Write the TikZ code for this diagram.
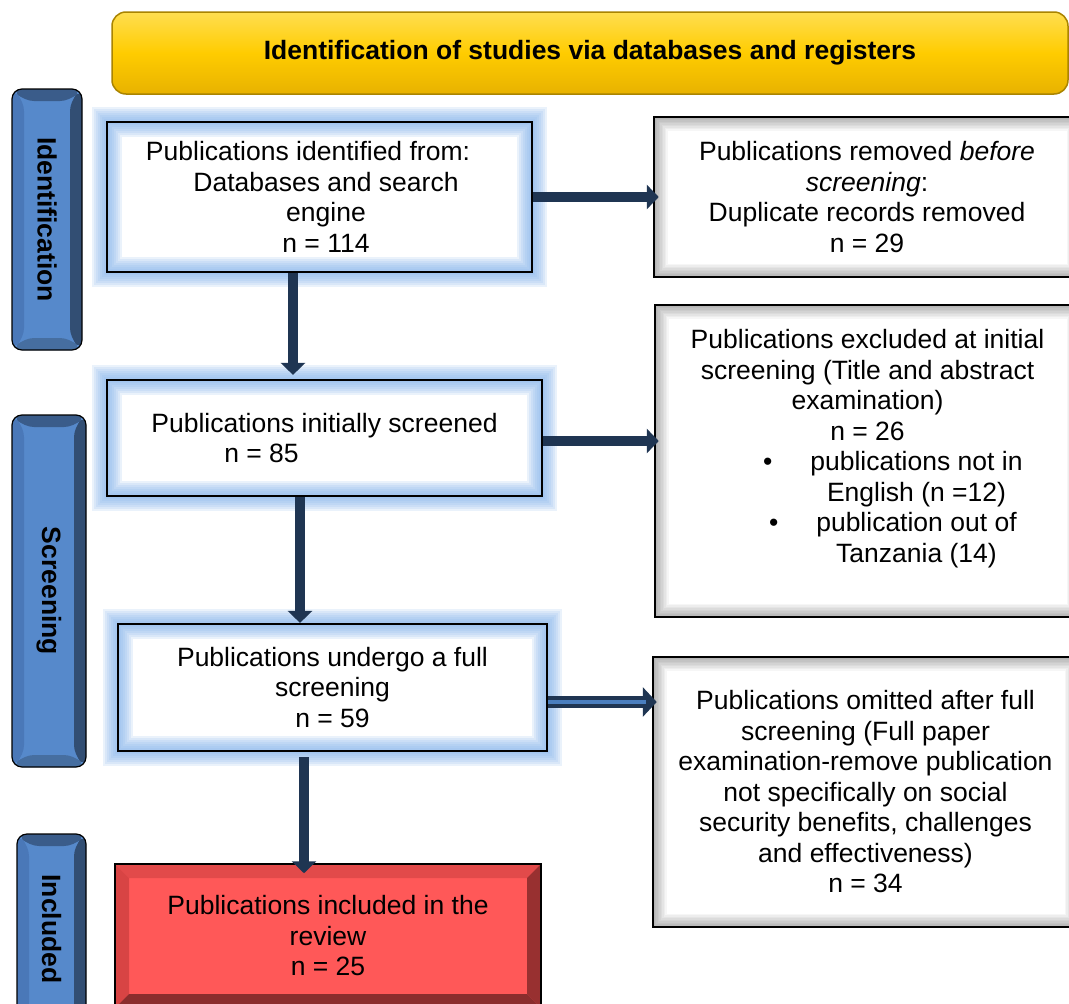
\documentclass[tikz,border=0pt]{standalone}
\usepackage{fontspec}
\setmainfont{Liberation Sans}
\usetikzlibrary{arrows.meta,calc}
\definecolor{navy}{RGB}{31,53,82}
\definecolor{glowc}{RGB}{140,185,238}
\definecolor{barface}{RGB}{86,137,203}
\definecolor{bartop}{RGB}{58,92,138}
\definecolor{barleft}{RGB}{74,120,184}
\definecolor{barright}{RGB}{50,78,115}
\definecolor{barbot}{RGB}{70,110,160}
\definecolor{redface}{RGB}{255,88,88}
\definecolor{redtop}{RGB}{226,74,74}
\definecolor{redleft}{RGB}{216,68,68}
\definecolor{redright}{RGB}{152,48,48}
\definecolor{redbot}{RGB}{138,45,45}
\definecolor{gold}{RGB}{255,204,0}
\definecolor{goldtop}{RGB}{255,222,80}
\definecolor{goldbot}{RGB}{232,178,0}
\definecolor{goldline}{RGB}{170,132,0}
\definecolor{innerblue}{RGB}{74,126,190}
\begin{document}
\begin{tikzpicture}[x=1pt,y=-1pt,
  every node/.style={font=\fontsize{26.5}{30.5}\selectfont, inner sep=0pt, align=center},
  bev/.style n args={6}{fill=#2, path picture={
    \fill[#3] (path picture bounding box.north west) -- (path picture bounding box.north east)
      -- ([xshift=-#1,yshift=-#1]path picture bounding box.north east)
      -- ([xshift=#1,yshift=-#1]path picture bounding box.north west) -- cycle;
    \fill[#4] (path picture bounding box.north west) -- ([xshift=#1,yshift=-#1]path picture bounding box.north west)
      -- ([xshift=#1,yshift=#1]path picture bounding box.south west)
      -- (path picture bounding box.south west) -- cycle;
    \fill[#5] (path picture bounding box.north east) -- ([xshift=-#1,yshift=-#1]path picture bounding box.north east)
      -- ([xshift=-#1,yshift=#1]path picture bounding box.south east)
      -- (path picture bounding box.south east) -- cycle;
    \fill[#6] (path picture bounding box.south west) -- ([xshift=#1,yshift=#1]path picture bounding box.south west)
      -- ([xshift=-#1,yshift=#1]path picture bounding box.south east)
      -- (path picture bounding box.south east) -- cycle;
  }},
  bar/.style={draw=black, line width=1.2pt, rounded corners=10pt,
    bev={12pt}{barface}{bartop}{barleft}{barright}{barbot}},
  redbox/.style={draw=black, line width=1.5pt,
    bev={14pt}{redface}{redtop}{redleft}{redright}{redbot}},
  titlebox/.style={draw=goldline, line width=1.5pt, rounded corners=14pt,
    top color=goldtop, bottom color=goldbot, middle color=gold},
  gl/.style={preaction={draw=glowc, line width=#1, opacity=0.18, rounded corners=6pt}},
  glowbox/.style={draw=black, line width=2.2pt, preaction={fill=white},
    gl=30pt, gl=26pt, gl=22pt, gl=18pt, gl=14pt, gl=10pt, gl=6pt, gl=3pt},
  shadowbox/.style={draw=black, line width=2.5pt, fill=white, path picture={
    \foreach \w in {3,6,...,27}{
      \draw[black, opacity=0.035, line width=\w pt] (path picture bounding box.north west) rectangle (path picture bounding box.south east);}
  }},
  varrow/.style={draw=navy, line width=10.5pt, -{Triangle[width=24pt,length=12pt]}},
  dblarrow/.style={draw=navy, line width=12pt, -{Triangle[width=29pt,length=14pt]}}
]
\useasboundingbox (0,0) rectangle (1069,1004);
\fill[white] (0,0) rectangle (1069,1004);
\clip (0,0) rectangle (1069,1004);

% title
\node[titlebox, minimum width=956pt, minimum height=82pt] (title) at (590,53)
  {\bfseries Identification of studies via databases and registers};

% phase bars
\node[bar, minimum width=70pt, minimum height=261pt] (idbar) at (47,219.5)
  {\rotatebox{-90}{\bfseries Identification}};
\node[bar, minimum width=74pt, minimum height=352pt] (scbar) at (49,591)
  {\rotatebox{-90}{\bfseries Screening}};
\node[bar, minimum width=69pt, minimum height=190pt] (inbar) at (51.5,929)
  {\rotatebox{-90}{\bfseries Included}};

% left column
\node[glowbox, minimum width=425pt, minimum height=150pt] (b1) at (319.5,197)
  {\hspace*{-23pt}Publications identified from:\\\hspace*{13pt}Databases and search\\\hspace*{13pt}engine\\\hspace*{13pt}n = 114};
\node[glowbox, minimum width=435pt, minimum height=116pt] (b2) at (324.5,438)
  {Publications initially screened\\\hspace*{-126pt}n = 85};
\node[glowbox, minimum width=429pt, minimum height=127pt] (b3) at (332.5,687.5)
  {Publications undergo a full\\screening\\n = 59};
\node[redbox, minimum width=426pt, minimum height=144pt] (b4) at (328,936)
  {Publications included in the\\review\\n = 25};

% right column
\node[shadowbox, minimum width=426pt, minimum height=160pt] (r1) at (867,197)
  {Publications removed \textit{before}\\\textit{screening}:\\Duplicate records removed\\n = 29};
\node[shadowbox, minimum width=425pt, minimum height=312pt] (r2) at (867.5,461)
  {Publications excluded at initial\\screening (Title and abstract\\examination)\\n = 26\\
   \hspace*{98pt}\llap{\textbullet\hspace{38pt}}publications not in\\
   \hspace*{98pt}English (n =12)\\
   \hspace*{98pt}\llap{\textbullet\hspace{38pt}}publication out of\\
   \hspace*{98pt}Tanzania (14)\\\mbox{}};
\node[shadowbox, minimum width=425pt, minimum height=270pt] (r3) at (865.5,792)
  {Publications omitted after full\\screening (Full paper\\examination-remove publication\\not specifically on social\\security benefits, challenges\\and effectiveness)\\n = 34};

% connectors
\coordinate (a1x) at (293,0);
\coordinate (a2x) at (300,0);
\coordinate (a3x) at (304,0);
\draw[varrow, shorten >=4pt] (b1.south -| a1x) -- (b2.north -| a1x);
\draw[varrow] (b2.south -| a2x) -- (b3.north -| a2x);
\draw[varrow, shorten <=5pt, shorten >=-10pt] (b3.south -| a3x) -- (b4.north -| a3x);

\draw[varrow, shorten >=-6pt] (b1.east) -- (b1.east -| r1.west);
\coordinate (h2) at ($(b2.east)+(0,3)$);
\coordinate (h2e) at (h2 -| r2.west);
\draw[varrow, shorten >=-5pt] (h2) -- (h2e);
\coordinate (h3) at ($(b3.east)+(0,14.5)$);
\coordinate (h3e) at (h3 -| r3.west);
\draw[dblarrow, shorten >=-5pt] (h3) -- (h3e);
\draw[innerblue, line width=3.5pt] (h3) -- ([xshift=-6pt]h3e);
\end{tikzpicture}
\end{document}
